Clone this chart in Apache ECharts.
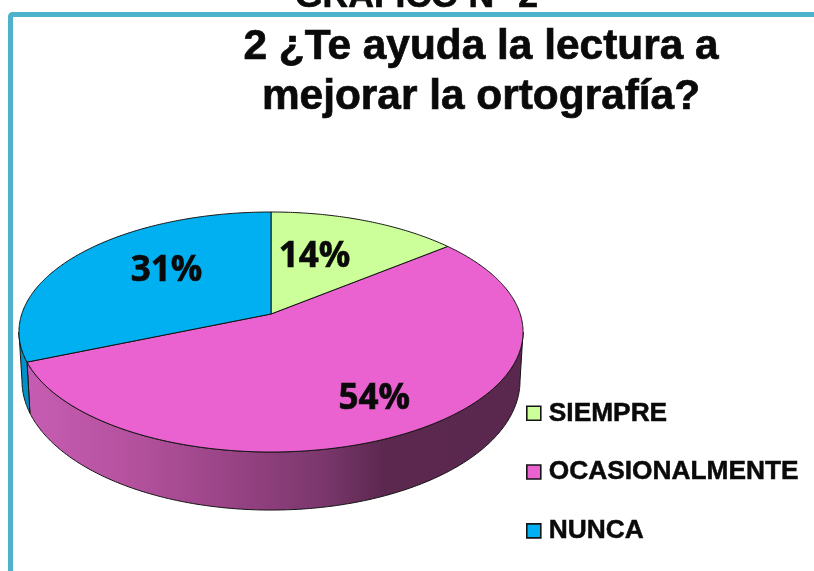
<!DOCTYPE html>
<html>
<head>
<meta charset="utf-8">
<style>html,body{margin:0;padding:0;background:#fff}#c{width:814px;height:571px}</style>
<script src="https://cdn.jsdelivr.net/npm/echarts@6/dist/echarts.min.js"></script>
</head>
<body>
<div id="c"></div>
<script>
const categories = ['SIEMPRE', 'OCASIONALMENTE', 'NUNCA'];
const values = [14, 54, 31];
const titleLines = ['2 ¿Te ayuda la lectura a', 'mejorar la ortografía?'];
const headerText = 'GRÁFICO N° 2';

const topColors = ['#ccff99', '#e962d0', '#00b0f0'];
const sideFill = [
  '#8fb86c',
  { type: 'linear', x: 30, y: 0, x2: 520, y2: 0, global: true, colorStops: [
    { offset: 0, color: '#c65cb2' }, { offset: 0.2, color: '#b5529f' },
    { offset: 0.4, color: '#9a4486' }, { offset: 0.6, color: '#7a376c' },
    { offset: 0.72, color: '#5c2850' }, { offset: 1, color: '#5a274e' } ] },
  '#0090c8'
];
const labelShift = [[-16, 2], [20, 20], [14, -6]];

// view of the tilted disc
const view = { cx: 271, cy: 332, rx: 249.2, ry: 120, apex: -18, persp: 0.15, sx: 0.988, sy: 1.078, dy: 48.7 };
const total = values.reduce((a, b) => a + b, 0);
const toAngle = v => v / total * Math.PI * 2;
const starts = values.map((_, i) => toAngle(values.slice(0, i).reduce((a, b) => a + b, 0)));

function project(theta, r) {
  const u = r * Math.sin(theta), v = r * Math.cos(theta), w = 1 + view.persp * v;
  return [view.rx * u / w, (-view.ry * v + view.apex) / w];
}
const topPt = (t, r = 1) => { const p = project(t, r); return [view.cx + p[0], view.cy + p[1]]; };
const lowPt = t => { const p = project(t, 1); return [view.cx + p[0] * view.sx, view.cy + p[1] * view.sy + view.dy]; };
function arc(fn, a, b) {
  const n = Math.max(2, Math.ceil(Math.abs(b - a) / 0.01)), out = [];
  for (let k = 0; k <= n; k++) out.push(fn(a + (b - a) * k / n));
  return out;
}
const edgeAngle = Math.acos(view.apex / view.ry);  // where the outline turns

function wallItem(i) {
  const a0 = starts[i], a1 = a0 + toAngle(values[i]);
  const a = Math.max(a0, edgeAngle), b = Math.min(a1, Math.PI * 2 - edgeAngle);
  if (b <= a) return null;
  const pts = arc(topPt, a, b).concat(arc(lowPt, b, a));
  return { type: 'polygon', shape: { points: pts },
    style: { fill: sideFill[i], stroke: '#141414', lineWidth: 1 } };
}
function faceItem(i) {
  const a0 = starts[i], a1 = a0 + toAngle(values[i]);
  const pts = [topPt(0, 0)].concat(arc(topPt, a0, a1));
  return { type: 'polygon', z2: 2, shape: { points: pts },
    style: { fill: topColors[i], stroke: '#141414', lineWidth: 1, lineJoin: 'round' } };
}
function labelItem(i) {
  const a0 = starts[i], a1 = a0 + toAngle(values[i]);
  const p = topPt((a0 + a1) / 2, 0.6);
  return { type: 'text', z2: 3, style: {
    x: p[0] + labelShift[i][0], y: p[1] + labelShift[i][1], text: Math.round(values[i]) + '%',
    align: 'center', verticalAlign: 'middle', fill: '#0a0a0a',
    stroke: '#0a0a0a', lineWidth: 0.6,
    font: 'bold 35px "Open Sans", "Noto Sans", sans-serif' } };
}
const series = categories.map((name, i) => ({
  type: 'custom', name, coordinateSystem: 'none', silent: true, animation: false,
  itemStyle: { color: topColors[i] },
  z: i === 1 ? 3 : 4,
  data: [values[i]],
  renderItem: () => ({ type: 'group', children: [wallItem(i), faceItem(i), labelItem(i)].filter(Boolean) })
}));

const heavyText = { textBorderColor: '#0a0a0a', textBorderWidth: 0.7 };
const chart = echarts.init(document.getElementById('c'), null, { renderer: 'canvas' });
chart.setOption({
  animation: false,
  backgroundColor: '#ffffff',
  title: [
    { text: titleLines.join('\n'), left: 476, top: 17, textAlign: 'center', z: 6,
      textStyle: Object.assign({ fontFamily: '"Liberation Sans", Arial, sans-serif', fontSize: 42.4, fontWeight: 'bold', color: '#0a0a0a', lineHeight: 50 }, heavyText) },
    { text: headerText, left: 411.5, top: -26, textAlign: 'center',
      textStyle: Object.assign({ fontFamily: '"Liberation Sans", Arial, sans-serif', fontSize: 35.5, fontWeight: 'bold', color: '#0a0a0a' }, heavyText) }
  ],
  legend: {
    orient: 'vertical', left: 521, top: 395, itemWidth: 14, itemHeight: 14, itemGap: 32.3,
    icon: 'rect', selectedMode: false, data: categories,
    itemStyle: { borderColor: '#141414', borderWidth: 1.6 },
    textStyle: Object.assign({ fontFamily: '"Liberation Sans", Arial, sans-serif', fontSize: 26.3, fontWeight: 'bold', color: '#0a0a0a', padding: [0, 0, 0, 3] }, { textBorderColor: '#0a0a0a', textBorderWidth: 0.5 })
  },
  graphic: [{ type: 'rect', z: 1, silent: true,
    shape: { x: 10.5, y: 14.5, width: 830, height: 600, r: 2 },
    style: { fill: '#ffffff', stroke: '#4fb2ca', lineWidth: 5 } }],
  series
});
</script>
</body>
</html>
